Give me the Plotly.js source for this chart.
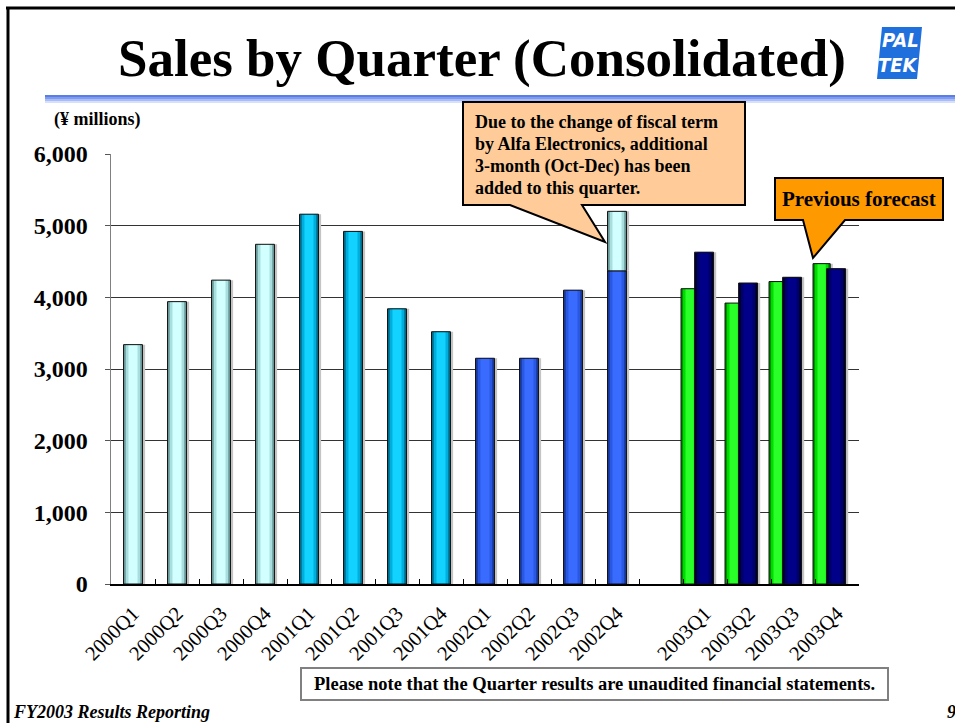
<!DOCTYPE html>
<html>
<head>
<meta charset="utf-8">
<script src="https://cdn.plot.ly/plotly-3.0.1.min.js"></script>
<style>
html,body{margin:0;padding:0;background:#fff;}
#chart{width:955px;height:723px;}
</style>
</head>
<body>
<div id="chart"></div>
<script>
// ---- data ----
const quarters2000 = ['2000Q1','2000Q2','2000Q3','2000Q4'];
const quarters2001 = ['2001Q1','2001Q2','2001Q3','2001Q4'];
const quarters2002 = ['2002Q1','2002Q2','2002Q3','2002Q4'];
const quarters2003 = ['2003Q1','2003Q2','2003Q3','2003Q4'];
const gapCategory = ' ';
const categories = [...quarters2000, ...quarters2001, ...quarters2002, gapCategory, ...quarters2003];

const sales2000 = [3340, 3940, 4240, 4740];
const sales2001 = [5160, 4920, 3840, 3520];
const sales2002 = [3150, 3150, 4100, 4370];
const q4With3MonthAlfa = 5200;            // 2002Q4 including additional Oct-Dec of Alfa Electronics
const previousForecast2003 = [4120, 3920, 4220, 4470];
const sales2003 = [4630, 4200, 4280, 4400];

const yTicks = [0, 1000, 2000, 3000, 4000, 5000, 6000];

// ---- layout helpers (pixel -> paper) ----
const L = 111, T = 154, W = 748, H = 430;
const xp = p => (p - L) / W;
const yp = p => (T + H - p) / H;
const path = pts => 'M' + pts.map(([x, y]) => xp(x).toFixed(5) + ',' + yp(y).toFixed(5)).join(' L') + ' Z';

const traces = [];
function addBars(xs, ys, pal, off, wid, base) {
  const common = {type: 'bar', x: xs, y: ys, hoverinfo: 'skip', showlegend: false};
  if (base) common.base = base;
  traces.push(Object.assign({}, common, {offset: off + 0.06, width: wid, marker: {color: '#c4c4c4', line: {width: 0}}}));
  traces.push(Object.assign({}, common, {offset: off, width: wid, marker: {color: pal[0], line: {width: 0}}}));
  traces.push(Object.assign({}, common, {offset: off + wid * 0.12, width: wid * 0.76, marker: {color: pal[1], line: {width: 0}}}));
  traces.push(Object.assign({}, common, {offset: off + wid * 0.26, width: wid * 0.48, marker: {color: pal[2], line: {width: 0}}}));
  traces.push(Object.assign({}, common, {offset: off, width: wid, marker: {color: 'rgba(0,0,0,0)', line: {width: 1, color: '#111'}}}));
}

const palLightCyan = ['#6e9d9d', '#a9dede', '#d2ffff'];
const palCyan = ['#00708f', '#00aedd', '#12d2ff'];
const palBlue = ['#1a3a9e', '#2a58e0', '#3a6bff'];
const palGreen = ['#009400', '#00dc00', '#2aff2a'];
const palNavy = ['#00002e', '#00006a', '#000088'];

addBars(quarters2000, sales2000, palLightCyan, -0.215, 0.43);
addBars(quarters2001, sales2001, palCyan, -0.215, 0.43);
addBars(quarters2002, sales2002, palBlue, -0.215, 0.43);
addBars(['2002Q4'], [q4With3MonthAlfa - sales2002[3]], palLightCyan, -0.215, 0.43, [sales2002[3]]);
addBars(quarters2003, previousForecast2003, palGreen, -0.545, 0.39);
addBars(quarters2003, sales2003, palNavy, -0.236, 0.43);

const serif = 'Liberation Serif, Times New Roman, serif';
const logoFont = 'DejaVu Sans Condensed, Liberation Sans Narrow, Liberation Sans, sans-serif';

const shapes = [
  // slide frame
  {type: 'line', xref: 'paper', yref: 'paper', x0: xp(6), x1: xp(960), y0: yp(8), y1: yp(8), line: {color: '#000', width: 3}},
  {type: 'line', xref: 'paper', yref: 'paper', x0: xp(8), x1: xp(8), y0: yp(7), y1: yp(730), line: {color: '#000', width: 3}},
  // gradient band under title
  {type: 'rect', xref: 'paper', yref: 'paper', x0: xp(45), x1: xp(960), y0: yp(95), y1: yp(97), fillcolor: '#5b7de6', line: {width: 0}},
  {type: 'rect', xref: 'paper', yref: 'paper', x0: xp(45), x1: xp(960), y0: yp(97), y1: yp(99), fillcolor: '#7f9bee', line: {width: 0}},
  {type: 'rect', xref: 'paper', yref: 'paper', x0: xp(45), x1: xp(960), y0: yp(99), y1: yp(101), fillcolor: '#a9bcf5', line: {width: 0}},
  {type: 'rect', xref: 'paper', yref: 'paper', x0: xp(45), x1: xp(960), y0: yp(101), y1: yp(103), fillcolor: '#d6e0fb', line: {width: 0}},
  // logo
  {type: 'path', xref: 'paper', yref: 'paper', path: path([[882, 27], [922, 27], [917, 79], [877, 79]]), fillcolor: '#1f6fdc', line: {width: 0}},
  // callout 1
  {type: 'path', xref: 'paper', yref: 'paper',
   path: path([[463, 102], [745, 102], [745, 205], [582, 205], [605, 242], [510, 205], [463, 205]]),
   fillcolor: '#ffcc99', line: {color: '#000', width: 2}},
  // callout 2
  {type: 'path', xref: 'paper', yref: 'paper',
   path: path([[775, 178], [943, 178], [943, 220], [845, 220], [813, 258], [803, 220], [775, 220]]),
   fillcolor: '#ff9900', line: {color: '#000', width: 2}},
  // note box
  {type: 'rect', xref: 'paper', yref: 'paper', x0: xp(301), x1: xp(888), y0: yp(668), y1: yp(700), fillcolor: '#fff', line: {color: '#808080', width: 2}}
];

const calloutLines = ['Due to the change of fiscal term', 'by Alfa Electronics, additional', '3-month (Oct-Dec) has been', 'added to this quarter.'];
const calloutBaselines = [128, 150, 172, 194];

const annotations = [
  {xref: 'paper', yref: 'paper', x: xp(482), y: yp(58), xanchor: 'center', yanchor: 'middle', showarrow: false,
   text: '<b>Sales by Quarter (Consolidated)</b>', font: {family: serif, size: 53, color: '#000'}},
  {xref: 'paper', yref: 'paper', x: xp(900), y: yp(40), xanchor: 'center', yanchor: 'middle', showarrow: false,
   text: '<b><i>PAL</i></b>', font: {family: logoFont, size: 20, color: '#fff'}},
  {xref: 'paper', yref: 'paper', x: xp(898), y: yp(65), xanchor: 'center', yanchor: 'middle', showarrow: false,
   text: '<b><i>TEK</i></b>', font: {family: logoFont, size: 20, color: '#fff'}},
  {xref: 'paper', yref: 'paper', x: xp(52), y: yp(119), xanchor: 'left', yanchor: 'middle', showarrow: false,
   text: '<b>(¥ millions)</b>', font: {family: serif, size: 18, color: '#000'}},
  {xref: 'paper', yref: 'paper', x: xp(859), y: yp(199), xanchor: 'center', yanchor: 'middle', showarrow: false,
   text: '<b>Previous forecast</b>', font: {family: serif, size: 21, color: '#000'}},
  {xref: 'paper', yref: 'paper', x: xp(594), y: yp(684), xanchor: 'center', yanchor: 'middle', showarrow: false,
   text: '<b>Please note that the Quarter results are unaudited financial statements.</b>', font: {family: serif, size: 18.5, color: '#000'}},
  {xref: 'paper', yref: 'paper', x: xp(11), y: yp(712), xanchor: 'left', yanchor: 'middle', showarrow: false,
   text: '<b><i>FY2003 Results Reporting</i></b>', font: {family: serif, size: 18, color: '#000'}},
  {xref: 'paper', yref: 'paper', x: xp(945), y: yp(712), xanchor: 'left', yanchor: 'middle', showarrow: false,
   text: '<b><i>9</i></b>', font: {family: serif, size: 18, color: '#000'}}
];
calloutLines.forEach((t, i) => annotations.push({
  xref: 'paper', yref: 'paper', x: xp(473), y: yp(calloutBaselines[i] - 6), xanchor: 'left', yanchor: 'middle', showarrow: false,
  text: '<b>' + t + '</b>', font: {family: serif, size: 18, color: '#000'}
}));

const layout = {
  width: 955, height: 723,
  margin: {l: L, r: 955 - L - W, t: T, b: 723 - T - H, pad: 0},
  paper_bgcolor: '#fff', plot_bgcolor: '#fff',
  barmode: 'overlay',
  showlegend: false,
  xaxis: {
    type: 'category', categoryorder: 'array', categoryarray: categories,
    range: [-0.5, categories.length - 0.5],
    showline: true, linecolor: '#000', linewidth: 1.5,
    ticks: 'inside', tickson: 'boundaries', ticklen: 5, tickcolor: '#000',
    tickangle: -45, ticklabelstandoff: 8, tickfont: {family: serif, size: 20.5, color: '#000'},
    showgrid: false, zeroline: false, fixedrange: true
  },
  yaxis: {
    range: [0, 6000], tickvals: yTicks, tickformat: ',d',
    showline: true, linecolor: '#808080', linewidth: 1.5,
    ticks: 'outside', ticklen: 5, tickcolor: '#555',
    ticklabelstandoff: 12,
    tickfont: {family: serif, size: 24, color: '#000', weight: 'bold'},
    showgrid: true, gridcolor: '#333', gridwidth: 1,
    zeroline: false, fixedrange: true
  },
  shapes: shapes,
  annotations: annotations
};

Plotly.newPlot('chart', traces, layout, {displayModeBar: false, staticPlot: true});
</script>
</body>
</html>
